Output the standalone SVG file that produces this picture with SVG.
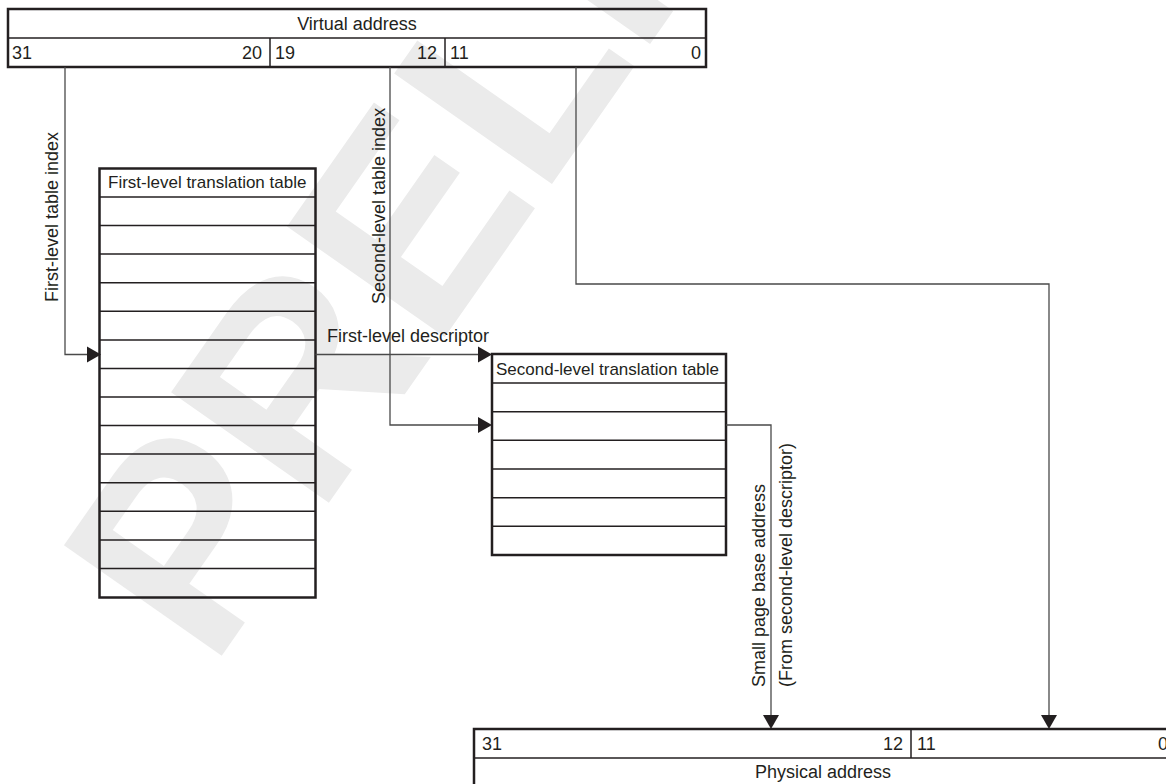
<svg xmlns="http://www.w3.org/2000/svg" width="1166" height="784" viewBox="0 0 1166 784">
<defs>
<style>
.box{fill:none;stroke:#231f20;stroke-width:2.5}
.row{stroke:#231f20;stroke-width:1.5}
.wire{fill:none;stroke:#4a4a4a;stroke-width:1.3}
.arr{fill:#231f20;stroke:none}
text{font-family:"Liberation Sans",Arial,Helvetica,sans-serif;fill:#231f20}
.t18{font-size:18px}
.t17{font-size:17px}
.wm{font-size:280px;font-weight:bold;fill:#ebebeb}
</style>
</defs>
<rect x="0" y="0" width="1166" height="784" fill="#ffffff"/>
<g id="watermark">
<text class="wm" transform="translate(211,671) rotate(-55)">PRELI</text>
</g>
<g id="virtual-address">
<rect class="box" x="8" y="9" width="698" height="58"/>
<line class="row" x1="8" y1="38" x2="706" y2="38"/>
<line class="row" x1="270" y1="38" x2="270" y2="67"/>
<line class="row" x1="445" y1="38" x2="445" y2="67"/>
<text class="t18" x="357" y="30" text-anchor="middle">Virtual address</text>
<text class="t18" x="12" y="59">31</text>
<text class="t18" x="262" y="59" text-anchor="end">20</text>
<text class="t18" x="275" y="59">19</text>
<text class="t18" x="437" y="59" text-anchor="end">12</text>
<text class="t18" x="450" y="59">11</text>
<text class="t18" x="701" y="59" text-anchor="end">0</text>
</g>
<g id="first-level-table">
<rect class="box" x="99.5" y="168.5" width="216" height="429"/>
<line class="row" x1="99.5" y1="197" x2="315.5" y2="197"/>
<line class="row" x1="99.5" y1="225.6" x2="315.5" y2="225.6"/>
<line class="row" x1="99.5" y1="254.1" x2="315.5" y2="254.1"/>
<line class="row" x1="99.5" y1="282.7" x2="315.5" y2="282.7"/>
<line class="row" x1="99.5" y1="311.3" x2="315.5" y2="311.3"/>
<line class="row" x1="99.5" y1="339.9" x2="315.5" y2="339.9"/>
<line class="row" x1="99.5" y1="368.4" x2="315.5" y2="368.4"/>
<line class="row" x1="99.5" y1="397" x2="315.5" y2="397"/>
<line class="row" x1="99.5" y1="425.6" x2="315.5" y2="425.6"/>
<line class="row" x1="99.5" y1="454.1" x2="315.5" y2="454.1"/>
<line class="row" x1="99.5" y1="482.7" x2="315.5" y2="482.7"/>
<line class="row" x1="99.5" y1="511.3" x2="315.5" y2="511.3"/>
<line class="row" x1="99.5" y1="539.9" x2="315.5" y2="539.9"/>
<line class="row" x1="99.5" y1="568.4" x2="315.5" y2="568.4"/>
<text class="t17" x="108" y="188">First-level translation table</text>
</g>
<g id="second-level-table">
<rect class="box" x="492" y="354" width="234" height="201"/>
<line class="row" x1="492" y1="383" x2="726" y2="383"/>
<line class="row" x1="492" y1="411.7" x2="726" y2="411.7"/>
<line class="row" x1="492" y1="440.3" x2="726" y2="440.3"/>
<line class="row" x1="492" y1="469" x2="726" y2="469"/>
<line class="row" x1="492" y1="497.7" x2="726" y2="497.7"/>
<line class="row" x1="492" y1="526.3" x2="726" y2="526.3"/>
<text class="t17" x="496" y="375">Second-level translation table</text>
</g>
<g id="physical-address">
<rect class="box" x="474" y="729" width="710" height="70"/>
<line class="row" x1="474" y1="758" x2="1166" y2="758"/>
<line class="row" x1="911" y1="729" x2="911" y2="758"/>
<text class="t18" x="482" y="750">31</text>
<text class="t18" x="903" y="750" text-anchor="end">12</text>
<text class="t18" x="917" y="750">11</text>
<text class="t18" x="1158" y="750">0</text>
<text class="t18" x="823" y="778" text-anchor="middle">Physical address</text>
</g>
<g id="connectors">
<path class="wire" d="M65 67 V354.5 H88"/>
<polygon class="arr" points="87,346.5 101,354.5 87,362.5"/>
<path class="wire" d="M315.5 354.5 H479"/>
<polygon class="arr" points="478,346.5 492,354.5 478,362.5"/>
<path class="wire" d="M390 67 V425 H479"/>
<polygon class="arr" points="478,417 492,425 478,433"/>
<path class="wire" d="M726 425 H771 V716"/>
<polygon class="arr" points="763,715 771,729 779,715"/>
<path class="wire" d="M576 67 V284 H1049 V716"/>
<polygon class="arr" points="1041,715 1049,729 1057,715"/>
<text class="t18" transform="translate(58,302) rotate(-90)">First-level table index</text>
<text class="t18" transform="translate(385,304) rotate(-90)">Second-level table index</text>
<text class="t18" x="327" y="342">First-level descriptor</text>
<text class="t18" transform="translate(765,687) rotate(-90)">Small page base address</text>
<text class="t18" transform="translate(792,687) rotate(-90)">(From second-level descriptor)</text>
</g>
</svg>
